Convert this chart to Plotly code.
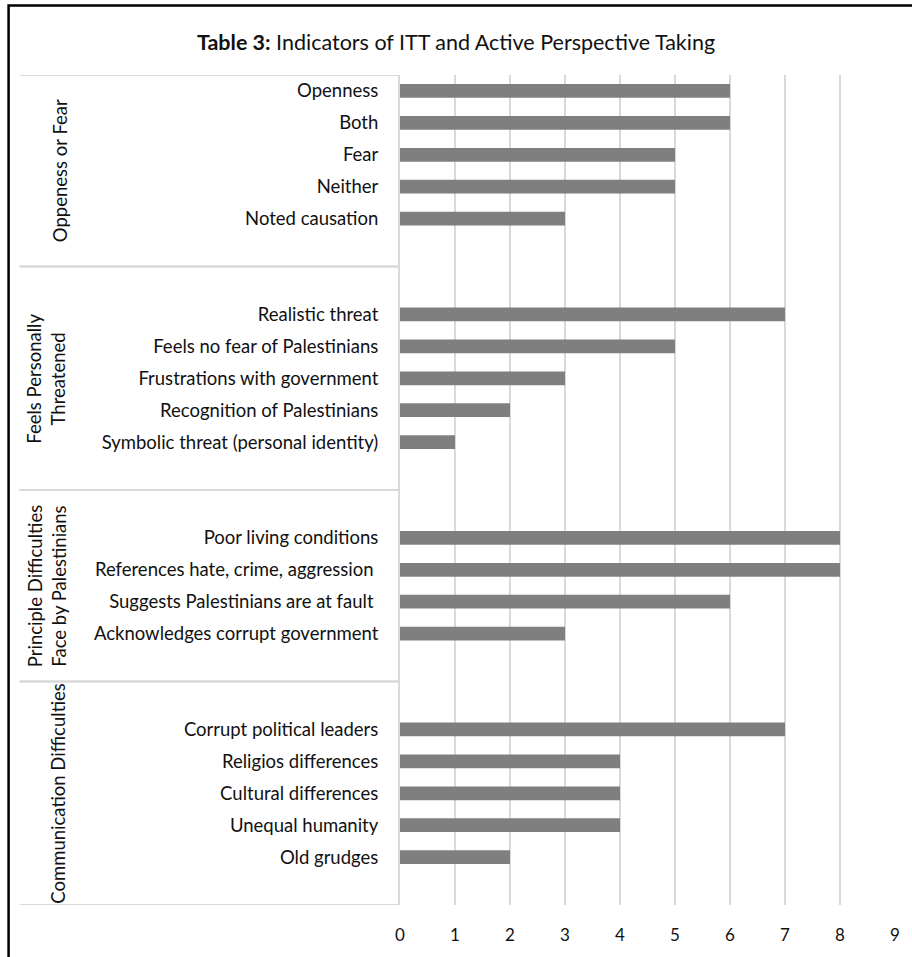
import plotly.graph_objects as go

# ---- data -------------------------------------------------------------
groups = [
    "Oppeness or Fear",
    "Feels Personally<br>Threatened",
    "Principle Difficulties<br>Face by Palestinians",
    "Communication Difficulties",
]

openness_labels = ["Openness", "Both", "Fear", "Neither", "Noted causation"]
openness_values = [6, 6, 5, 5, 3]

threat_labels = [
    "Realistic threat",
    "Feels no fear of Palestinians",
    "Frustrations with government",
    "Recognition of Palestinians",
    "Symbolic threat (personal identity)",
]
threat_values = [7, 5, 3, 2, 1]

difficulty_labels = [
    "Poor living conditions",
    "References hate, crime, aggression ",
    "Suggests Palestinians are at fault ",
    "Acknowledges corrupt government",
]
difficulty_values = [8, 8, 6, 3]

communication_labels = [
    "Corrupt political leaders",
    "Religios differences",
    "Cultural differences",
    "Unequal humanity",
    "Old grudges",
]
communication_values = [7, 4, 4, 4, 2]

x_ticks = [0, 1, 2, 3, 4, 5, 6, 7, 8, 9]

# ---- build the category sequence (blank rows pad each group) -----------
blank_count = [0]


def blank():
    blank_count[0] += 1
    return " " * blank_count[0]


cats, vals, spans = [], [], []
layout_groups = [
    (openness_labels, openness_values, False, True),
    (threat_labels, threat_values, True, True),
    (difficulty_labels, difficulty_values, True, True),
    (communication_labels, communication_values, True, True),
]
for labels, values, pad_top, pad_bottom in layout_groups:
    start = len(cats)
    if pad_top:
        cats.append(blank()); vals.append(None)
    cats.extend(labels); vals.extend(values)
    if pad_bottom:
        cats.append(blank()); vals.append(None)
    spans.append((start - 0.5, len(cats) - 0.5))

TEXT = "#111111"
FONT = "Lato"

fig = go.Figure(
    go.Bar(
        x=vals,
        y=cats,
        orientation="h",
        marker=dict(color="#7f7f7f", line=dict(width=0)),
        width=0.43,
        hoverinfo="x+y",
    )
)

# pixel helpers for decorations outside the plotting area
PL, PR, PT, PB = 400, 897, 75, 910
W, H = 912, 957


def px_x(px):
    return (px - PL) / (PR - PL)


def px_y(py):
    return (PB - py) / (PB - PT)


shapes = []
# group separators in the label column
for lo, hi in spans:
    for yv in (lo, hi):
        shapes.append(dict(type="line", xref="paper", yref="y",
                           x0=px_x(18), x1=0, y0=yv, y1=yv,
                           line=dict(color="#d9d9d9", width=2), layer="below"))
# frame around the whole figure
shapes.append(dict(type="rect", xref="paper", yref="paper",
                   x0=px_x(7), x1=px_x(W + 20), y0=px_y(H + 20), y1=px_y(5),
                   line=dict(color="#000000", width=2.5), fillcolor="rgba(0,0,0,0)"))

annotations = []
group_x = [58, 45, 45, 57]
for name, (lo, hi), gx in zip(groups, spans, group_x):
    annotations.append(dict(
        text=name, xref="paper", yref="y", x=px_x(gx), y=(lo + hi) / 2,
        textangle=-90, showarrow=False, xanchor="center", yanchor="middle",
        font=dict(family=FONT, size=18.5, color=TEXT), align="center",
    ))

fig.update_layout(
    width=W, height=H,
    margin=dict(l=PL, r=W - PR, t=PT, b=H - PB),
    paper_bgcolor="white", plot_bgcolor="white",
    showlegend=False,
    title=dict(
        text="<b>Table 3:</b> Indicators of ITT and Active Perspective Taking",
        x=0.5, xanchor="center", y=1 - 42 / H, yanchor="middle",
        font=dict(family=FONT, size=21.5, color=TEXT),
    ),
    xaxis=dict(
        range=[0, 9], tickvals=x_ticks, showgrid=True,
        gridcolor="#d9d9d9", gridwidth=2, zeroline=False, showline=False,
        ticks="", ticklabelstandoff=18,
        tickfont=dict(family=FONT, size=17, color=TEXT),
    ),
    yaxis=dict(
        type="category", categoryorder="array", categoryarray=cats,
        range=[len(cats) - 0.5, -0.5], showgrid=False, zeroline=False,
        showline=True, linecolor="#d9d9d9", linewidth=2,
        ticks="", ticklabelstandoff=16,
        tickfont=dict(family=FONT, size=18.5, color=TEXT),
    ),
    shapes=shapes,
    annotations=annotations,
)

fig.write_html("out.html")
